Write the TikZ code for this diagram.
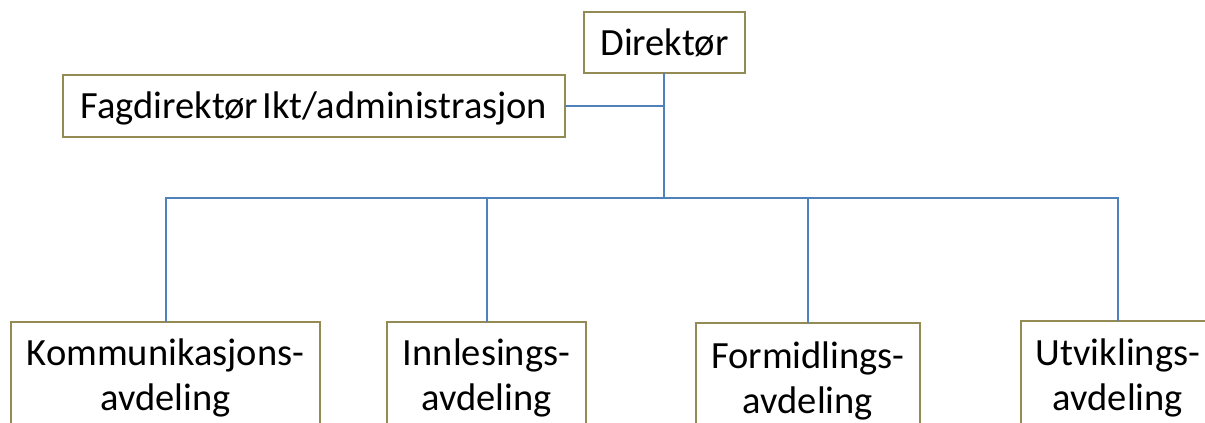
\documentclass[tikz,border=0pt]{standalone}
\usepackage{fontspec}
\setmainfont{Carlito}
\definecolor{boxline}{HTML}{948A54}
\definecolor{conn}{HTML}{4F81BD}
\begin{document}
\begin{tikzpicture}[x=1pt,y=-1pt,
  box/.style={draw=boxline,line width=1.8pt,fill=white,inner sep=0pt,outer sep=0pt},
  lbl/.style={font=\fontsize{38.5}{46}\selectfont,align=center,inner sep=0pt,anchor=base},
  conline/.style={draw=conn,line width=2pt}]
\useasboundingbox (0,0) rectangle (1205,423);
\clip (0,0) rectangle (1205,423);
% boxes
\node[box,minimum width=161pt,minimum height=61pt] (dir) at (664.5,42.5) {};
\node[box,minimum width=502pt,minimum height=62pt] (fag) at (314,106) {};
\node[box,minimum width=309pt,minimum height=160pt] (kom) at (165.5,402) {};
\node[box,minimum width=199pt,minimum height=160pt] (inn) at (486.5,402) {};
\node[box,minimum width=224pt,minimum height=160pt] (for) at (808,403) {};
\node[box,minimum width=194pt,minimum height=160pt] (utv) at (1118,401) {};
% texts
\node[lbl] (tdir) at (664.5,55) {Direktør};
\node[lbl] (tfag) at (314,118) {Fagdirektør\hspace{-0.12em} Ikt/administrasjon};
\node[lbl] (tkom1) at (165.5,365) {Kommunikasjons-};
\node[lbl] (tkom2) at (165.5,410) {avdeling};
\node[lbl] (tinn1) at (486.5,365) {Innlesings-};
\node[lbl] (tinn2) at (486.5,410) {avdeling};
\node[lbl] (tfor1) at (808,368) {Formidlings-};
\node[lbl] (tfor2) at (808,413) {avdeling};
\node[lbl] (tutv1) at (1118,365) {Utviklings-};
\node[lbl] (tutv2) at (1118,410) {avdeling};
% connectors
\coordinate (j) at (664,106);
\coordinate (b) at (664,198);
\path[conline] (dir.south -| j) -- (b);
\path[conline] (fag.east) -- (j);
\path[conline] (b) -| (kom.north);
\path[conline] (b) -| (inn.north);
\path[conline] (b) -| (for.north);
\path[conline] (b) -| (utv.north);
\end{tikzpicture}
\end{document}
